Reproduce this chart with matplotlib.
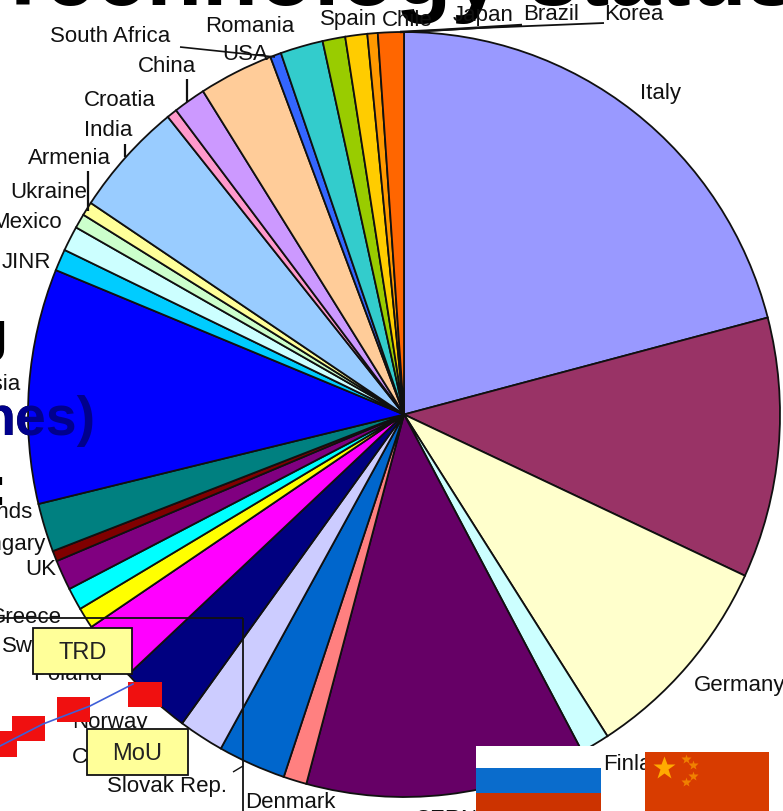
import matplotlib
matplotlib.use("Agg")
import matplotlib.pyplot as plt
from matplotlib.patches import Rectangle

W, H = 783, 812

# countries going clockwise from the top, shares in degrees of the pie
countries = ["Italy", "France", "Germany", "Finland", "CERN", "Denmark", "Slovak Rep.",
             "Czech", "Norway", "Poland", "Sweden", "Greece", "UK", "Hungary",
             "Netherlands", "Russia", "JINR", "Mexico", "Ukraine", "Armenia", "India",
             "Croatia", "China", "USA", "Romania", "South Africa", "Spain", "Chile",
             "Japan", "Brazil"]
shares = [75.3, 39.6, 32.3, 4.5, 43.3, 3.6, 10.5, 7.0, 11.0, 9.1, 3.2, 3.4, 4.6, 1.6,
          7.4, 35.7, 3.3, 3.8, 2.2, 2.1, 17.5, 1.6, 5.0, 11.5, 1.7, 6.6, 3.5, 3.4, 1.6, 4.0]
colors = ["#9999FF", "#993366", "#FFFFCC", "#CCFFFF", "#660066", "#FF8080", "#0066CC",
          "#CCCCFF", "#000080", "#FF00FF", "#FFFF00", "#00FFFF", "#800080", "#800000",
          "#008080", "#0000FF", "#00CCFF", "#CCFFFF", "#CCFFCC", "#FFFF99", "#99CCFF",
          "#FF99CC", "#CC99FF", "#FFCC99", "#3366FF", "#33CCCC", "#99CC00", "#FFCC00",
          "#FF9900", "#FF6600"]

plt.rcParams["font.family"] = ["Liberation Sans", "DejaVu Sans"]

fig = plt.figure(figsize=(W / 100, H / 100), dpi=100, facecolor="white")


def pixel_axes(zorder):
    ax = fig.add_axes([0, 0, 1, 1], zorder=zorder)
    ax.set_xlim(0, W)
    ax.set_ylim(H, 0)
    ax.axis("off")
    return ax


# slide heading sits behind the pie
back = pixel_axes(1)
back.text(-5, 5, "Technology status", fontsize=66, fontweight="bold", va="baseline")
back.text(8, 350, "g", fontsize=40, fontweight="bold", ha="right", va="baseline")
back.text(95, 435, "nes)", fontsize=40, fontweight="bold", ha="right", va="baseline")
back.text(7, 505, ":", fontsize=40, fontweight="bold", ha="right", va="baseline")

# pie, slightly taller than wide
pie_ax = fig.add_axes([28 / W, (H - 415.5 - 382.5) / H, 752 / W, 765 / H], zorder=2)
wedges, _ = pie_ax.pie(shares, colors=colors, startangle=90, counterclock=False, radius=1,
                       wedgeprops={"edgecolor": "#101010", "linewidth": 1.3})
pie_ax.set_aspect("auto")
pie_ax.set_xlim(-1, 1)
pie_ax.set_ylim(-1, 1)

top = pixel_axes(3)

# the heading shows through the Russia slice
ghost = top.text(95, 435, "nes)", fontsize=40, fontweight="bold", ha="right", va="baseline",
                 color="#00008C", clip_on=True)
ghost.set_clip_path(wedges[countries.index("Russia")])

labels = [("Italy", 640, 93, "left"), ("Germany", 694, 686, "left"), ("Finland", 603, 765, "left"),
          ("CERN", 415, 820, "left"), ("Denmark", 245, 803, "left"), ("Slovak Rep.", 107, 787, "left"),
          ("Czech", 72, 758, "left"), ("Norway", 72, 723, "left"), ("Poland", 33, 675, "left"),
          ("Sweden", 2, 647, "left"), ("Greece", 62, 618, "right"), ("UK", 25, 570, "left"),
          ("Hungary", 45, 545, "right"), ("Netherlands", 32, 513, "right"), ("Russia", 20, 385, "right"),
          ("JINR", 2, 263, "left"), ("Mexico", 62, 222, "right"), ("Ukraine", 10, 192, "left"),
          ("Armenia", 28, 159, "left"), ("India", 84, 131, "left"), ("Croatia", 84, 100, "left"),
          ("China", 138, 67, "left"), ("USA", 222, 55, "left"), ("Romania", 205, 27, "left"),
          ("South Africa", 50, 36, "left"), ("Spain", 320, 20, "left"), ("Chile", 382, 21, "left"),
          ("Japan", 453, 16, "left"), ("Brazil", 523, 15, "left"), ("Korea", 604, 14, "left")]
for name, x, y, ha in labels:
    top.text(x, y, name, fontsize=16, ha=ha, va="center", color="#111111", zorder=2)

# leader lines
leaders = [([180, 275], [48, 58], 1.2), ([187, 187], [80, 103], 1.6), ([125, 125], [145, 158], 1.6),
           ([88, 88], [172, 212], 1.6), ([604, 480, 407], [24, 29, 33], 1.3),
           ([522, 440, 400], [26, 31, 33], 1.8), ([0, 243], [619, 619], 1.3),
           ([243, 243], [619, 812], 1.3), ([233, 243], [773, 767], 1.0)]
for xs, ys, lw in leaders:
    top.plot(xs, ys, color="#111111", lw=lw, solid_capstyle="butt", zorder=3)

# schedule strip: red blocks joined by a blue line
for x, y, w, h in [(128, 683, 34, 25), (57, 698, 33, 25), (12, 717, 33, 25), (-16, 732, 33, 26)]:
    top.add_patch(Rectangle((x, y), w, h, facecolor="#F01010", edgecolor="none", zorder=4))
top.plot([0, 43, 90, 133], [747, 725, 707, 685], color="#3F5FD8", lw=1.2, zorder=5)

# tag boxes
for x, y, w, h, text in [(33, 629, 99, 46, "TRD"), (87, 730, 101, 46, "MoU")]:
    top.add_patch(Rectangle((x, y), w, h, facecolor="#FFFF99", edgecolor="#111111", lw=1.3, zorder=6))
    top.text(x + w / 2, y + h / 2 + 1, text, fontsize=17, ha="center", va="center", color="#222222", zorder=7)

# flags along the lower edge
for y, h, c in [(747, 22, "white"), (769, 25, "#0A6CCC"), (794, 18, "#CC3300")]:
    top.add_patch(Rectangle((476, y), 125, h, facecolor=c, edgecolor="none", zorder=6))
top.add_patch(Rectangle((645, 753), 124, 59, facecolor="#D83C00", edgecolor="none", zorder=6))
top.plot([664], [769], marker="*", ms=17, color="#FFAA00", mec="none", zorder=7)
top.plot([686, 693, 693, 686], [760, 766, 777, 783], marker="*", ms=7, color="#F08000", mec="none", ls="none", zorder=7)

fig.savefig("out.png", dpi=100)
